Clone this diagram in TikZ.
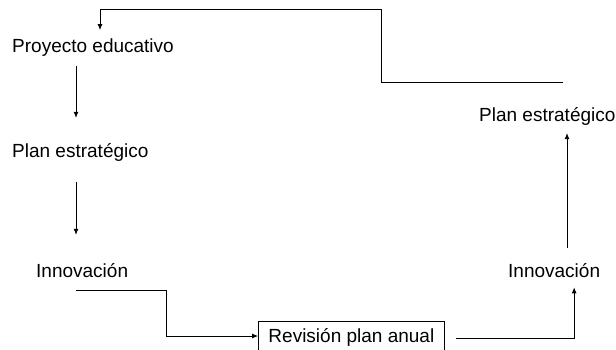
\documentclass[tikz,border=0pt]{standalone}
\usepackage{fontspec}
\setmainfont{Liberation Sans}
\usepackage{tikz}
\usetikzlibrary{arrows.meta,calc}

\begin{document}
\begin{tikzpicture}[
  x=1pt, y=-1pt,
  lbl/.style={inner sep=0pt, anchor=base west, font=\fontsize{19}{23}\selectfont},
  box/.style={draw, line width=0.8pt, anchor=north west, inner xsep=9pt, inner ysep=7pt,
    minimum width=186pt, font=\fontsize{19}{23}\selectfont},
  arr/.style={-{Latex[length=6pt,width=5pt]}, line width=0.8pt}
]
\useasboundingbox (0,0) rectangle (616,349);
\coordinate (colL) at (76,0);
\coordinate (colR) at (567,0);
\node[lbl] (proy) at (12,52) {Proyecto educativo};
\node[lbl] (planL) at (12,157) {Plan estratégico};
\node[lbl] (innL) at (36,277) {Innovación};
\node[box] (rev) at (258,321) {Revisión plan anual};
\node[lbl] (innR) at (508,277) {Innovación};
\node[lbl] (planR) at (479,121) {Plan estratégico};
\draw[arr, shorten <=10pt, shorten >=25pt] (proy.south -| colL) -- (planL.north -| colL);
\draw[arr, shorten <=21pt, shorten >=28pt] (planL.south -| colL) -- (innL.north -| colL);
\draw[arr] ($(innL.south -| colL)+(0,13)$) -- ++(90,0) |- ($(rev.north west)+(0,15)$);
\draw[arr] ($(rev.north east)+(11,17)$) -| ($(innR.south)+(20,10)$);
\draw[arr, shorten <=15pt, shorten >=8pt] (innR.north -| colR) -- (planR.south -| colR);
\draw[arr] ($(planR.north)+(16,-24)$) -- ++(-182,0) -- ++(0,-73) -| ($(proy.north)+(7,-8)$);
\end{tikzpicture}
\end{document}
